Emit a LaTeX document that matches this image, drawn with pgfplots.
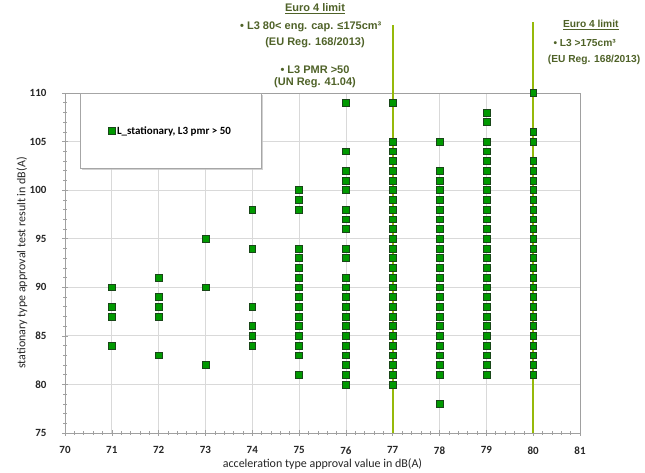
\documentclass[border=0pt]{standalone}
\usepackage{fontspec}
\setmainfont{Carlito}
\newfontfamily\arialfont{Liberation Sans}
\usepackage{pgfplots}
\pgfplotsset{compat=1.18}
\usetikzlibrary{shadows}
\definecolor{mgreen}{RGB}{0,153,0}
\definecolor{mborder}{RGB}{25,70,25}
\definecolor{limline}{RGB}{150,185,10}
\definecolor{anntext}{RGB}{79,98,40}
\definecolor{gridc}{RGB}{217,217,217}
\definecolor{axc}{RGB}{160,160,160}
\begin{document}
\begin{tikzpicture}
\begin{axis}[
  scale only axis,
  width=515pt, height=340pt,
  xmin=70, xmax=81, ymin=75, ymax=110,
  xtick={70,...,81}, ytick={75,80,...,110},
  minor x tick num=4, minor y tick num=4,
  tick align=center, tick pos=left,
  major tick length=6pt, minor tick length=4pt,
  every tick/.style={axc, line width=0.6pt},
  grid=major,
  major grid style={gridc, line width=0.8pt},
  axis line style={axc, line width=0.8pt},
  clip=false,
  /pgf/number format/assume math mode=true,
  ticklabel style={font=\fontsize{11}{13}\selectfont\bfseries, text=black!85},
  yticklabel style={xshift=-12pt},
  xticklabel style={yshift=-7pt},
  xlabel={acceleration type approval value in dB(A)},
  ylabel={stationary type approval test result in dB(A)},
  label style={font=\fontsize{12}{14}\selectfont, text=black!85},
  xlabel style={at={(axis description cs:0.5,-0.091)}, anchor=center},
  ylabel style={at={(axis description cs:-0.0835,0.5)}, anchor=center},
  legend style={at={(rel axis cs:0.029,1)}, anchor=north west,
    draw=gray!70, fill=white, line width=0.6pt,
    inner xsep=28pt, inner ysep=31pt,
    font=\fontsize{11}{13}\selectfont\bfseries,
    drop shadow={shadow xshift=1.5pt, shadow yshift=-1.5pt, fill=gray!45, opacity=0.8},
    legend cell align=left},
]
\coordinate (SW) at (rel axis cs:0,0);
\addplot[only marks, mark=square*, mark size=3.4pt,
  mark options={fill=mgreen, draw=mborder, line width=0.5pt}]
table[row sep=\\] {
x y\\
71 90\\ 71 88\\ 71 87\\ 71 84\\
72 91\\ 72 89\\ 72 88\\ 72 87\\ 72 83\\
73 95\\ 73 90\\ 73 82\\
74 98\\ 74 94\\ 74 88\\ 74 86\\ 74 85\\ 74 84\\
75 100\\ 75 99\\ 75 98\\ 75 94\\ 75 93\\ 75 92\\ 75 91\\ 75 90\\ 75 89\\ 75 88\\ 75 87\\ 75 86\\ 75 85\\ 75 84\\ 75 83\\ 75 81\\
76 109\\ 76 104\\ 76 102\\ 76 101\\ 76 100\\ 76 98\\ 76 97\\ 76 96\\ 76 94\\ 76 93\\ 76 91\\ 76 90\\ 76 89\\ 76 88\\ 76 87\\ 76 86\\ 76 85\\ 76 84\\ 76 83\\ 76 82\\ 76 81\\ 76 80\\
77 109\\ 77 105\\ 77 104\\ 77 103\\ 77 102\\ 77 101\\ 77 100\\ 77 99\\ 77 98\\ 77 97\\ 77 96\\ 77 95\\ 77 94\\ 77 93\\ 77 92\\ 77 91\\ 77 90\\ 77 89\\ 77 88\\ 77 87\\ 77 86\\ 77 85\\ 77 84\\ 77 83\\ 77 82\\ 77 81\\ 77 80\\
78 105\\ 78 102\\ 78 101\\ 78 100\\ 78 99\\ 78 98\\ 78 97\\ 78 96\\ 78 95\\ 78 94\\ 78 93\\ 78 92\\ 78 91\\ 78 90\\ 78 89\\ 78 88\\ 78 87\\ 78 86\\ 78 85\\ 78 84\\ 78 83\\ 78 82\\ 78 81\\ 78 78\\
79 108\\ 79 107\\ 79 105\\ 79 104\\ 79 103\\ 79 102\\ 79 101\\ 79 100\\ 79 99\\ 79 98\\ 79 97\\ 79 96\\ 79 95\\ 79 94\\ 79 93\\ 79 92\\ 79 91\\ 79 90\\ 79 89\\ 79 88\\ 79 87\\ 79 86\\ 79 85\\ 79 84\\ 79 83\\ 79 82\\ 79 81\\
80 110\\ 80 106\\ 80 105\\ 80 103\\ 80 102\\ 80 101\\ 80 100\\ 80 99\\ 80 98\\ 80 97\\ 80 96\\ 80 95\\ 80 94\\ 80 93\\ 80 92\\ 80 91\\ 80 90\\ 80 89\\ 80 88\\ 80 87\\ 80 86\\ 80 85\\ 80 84\\ 80 83\\ 80 82\\ 80 81\\
};
\addlegendentry{L\_stationary, L3 pmr > 50}
\addplot[limline, line width=2.4pt, forget plot] coordinates {(77,75) (77,117.0)};
\addplot[limline, line width=2.4pt, forget plot] coordinates {(80,75) (80,117.3)};
\begin{scope}[every node/.style={text=anntext, font=\arialfont\bfseries\fontsize{11}{13}\selectfont, anchor=center, inner sep=0pt}]
\node at (axis cs:75.34,118.65) {\underline{Euro 4 limit}};
\node at (axis cs:75.25,116.8) {\textbullet\ L3 80< eng. cap. ≤175cm³};
\node at (axis cs:75.34,115.15) {(EU Reg. 168/2013)};
\node at (axis cs:75.34,112.37) {\textbullet\ L3 PMR >50};
\node at (axis cs:75.34,111.03) {(UN Reg. 41.04)};
\end{scope}
\begin{scope}[every node/.style={text=anntext, font=\arialfont\bfseries\fontsize{10.2}{12}\selectfont, anchor=center, inner sep=0pt}]
\node at (axis cs:81.23,117.0) {\underline{Euro 4 limit}};
\node at (axis cs:81.10,115.15) {\textbullet\ L3 >175cm³};
\node at (axis cs:81.30,113.4) {(EU Reg. 168/2013)};
\end{scope}
\end{axis}
\pgfresetboundingbox
\path[use as bounding box] ([shift={(-65pt,-40pt)}]SW) rectangle ([shift={(580pt,433pt)}]SW);
\end{tikzpicture}
\end{document}
